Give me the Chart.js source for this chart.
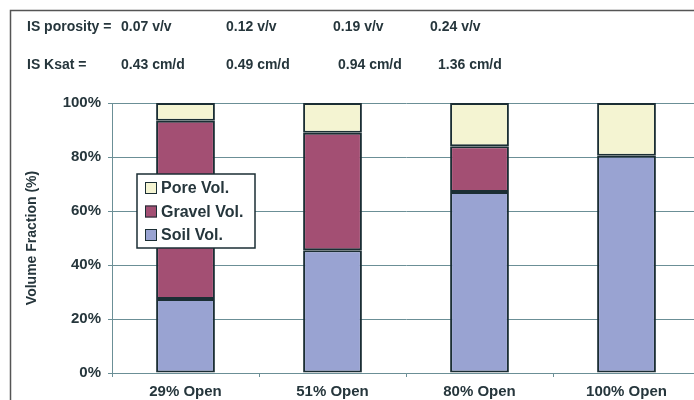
<!DOCTYPE html>
<html>
<head>
<meta charset="utf-8">
<script src="https://cdn.jsdelivr.net/npm/chart.js@4.4.0/dist/chart.umd.min.js"></script>
<style>
  html, body { margin: 0; padding: 0; background: #fff; overflow: hidden; }
  #wrap { width: 706px; height: 410px; }
</style>
</head>
<body>
<div id="wrap"><canvas id="myChart" width="706" height="410"></canvas></div>
<script>
// data
var categories = ['29% Open', '51% Open', '80% Open', '100% Open'];
var soilVol = [27.4, 45.5, 67, 80.5];
var gravelVol = [66, 43.5, 17, 0];
var poreVol = [6.6, 11, 16, 19.5];
var yTicks = [0, 20, 40, 60, 80, 100];
var porosityRow = ['0.07 v/v', '0.12 v/v', '0.19 v/v', '0.24 v/v'];
var ksatRow = ['0.43 cm/d', '0.49 cm/d', '0.94 cm/d', '1.36 cm/d'];

var textColor = '#26363c';
var edgeColor = '#1b2e34';
var gridColor = '#6b8f96';
var fontName = '"Liberation Sans", Arial, sans-serif';

// frame, header rows and the boxed legend
var extras = {
    id: 'extras',
    afterDraw: function(chart) {
        var ctx = chart.ctx;
        ctx.save();
        ctx.strokeStyle = '#555';
        ctx.lineWidth = 1.5;
        ctx.beginPath();
        ctx.moveTo(10.5, chart.height);
        ctx.lineTo(10.5, 10.5);
        ctx.lineTo(chart.width, 10.5);
        ctx.stroke();

        ctx.fillStyle = textColor;
        ctx.font = 'bold 14px ' + fontName;
        ctx.textBaseline = 'middle';
        ctx.textAlign = 'left';
        ctx.fillText('IS porosity =', 27, 27);
        ctx.fillText('IS Ksat =', 27, 65);
        var px = [121, 226, 333, 430];
        var kx = [121, 226, 338, 438];
        porosityRow.forEach(function(t, i) { ctx.fillText(t, px[i], 27); });
        ksatRow.forEach(function(t, i) { ctx.fillText(t, kx[i], 65); });

        // legend
        ctx.fillStyle = '#fff';
        ctx.fillRect(137, 174, 118, 74);
        ctx.strokeStyle = edgeColor;
        ctx.lineWidth = 1.5;
        ctx.strokeRect(137, 174, 118, 74);
        var order = [2, 1, 0];
        ctx.font = 'bold 16px ' + fontName;
        order.forEach(function(di, row) {
            var ds = chart.data.datasets[di];
            var cy = 188 + row * 23.5;
            ctx.fillStyle = ds.backgroundColor;
            ctx.fillRect(145, cy - 6, 12, 12);
            ctx.strokeStyle = edgeColor;
            ctx.lineWidth = 1;
            ctx.strokeRect(145.5, cy - 5.5, 11, 11);
            ctx.fillStyle = textColor;
            ctx.fillText(ds.label, 161, cy + 1);
        });
        ctx.restore();
    }
};

new Chart(document.getElementById('myChart').getContext('2d'), {
    type: 'bar',
    data: {
        labels: categories,
        datasets: [{
            label: 'Soil Vol.',
            data: soilVol,
            backgroundColor: '#99a3d2'
        }, {
            label: 'Gravel Vol.',
            data: gravelVol,
            backgroundColor: '#a34f73'
        }, {
            label: 'Pore Vol.',
            data: poreVol,
            backgroundColor: '#f4f4d2'
        }]
    },
    plugins: [extras],
    options: {
        responsive: false,
        animation: false,
        devicePixelRatio: 1,
        layout: { padding: { left: 0, top: 103, right: 6, bottom: 0 } },
        datasets: {
            bar: {
                borderColor: edgeColor,
                borderWidth: 2,
                borderSkipped: false,
                barPercentage: 0.4,
                categoryPercentage: 1
            }
        },
        plugins: {
            legend: { display: false },
            tooltip: { enabled: false }
        },
        scales: {
            x: {
                stacked: true,
                afterFit: function(scale) { scale.height = 37; },
                grid: {
                    offset: true,
                    drawOnChartArea: false,
                    color: gridColor,
                    tickLength: 4
                },
                border: { display: true, color: gridColor },
                ticks: {
                    color: textColor,
                    padding: 6,
                    maxRotation: 0,
                    font: { family: fontName, size: 15, weight: 'bold' }
                }
            },
            y: {
                stacked: true,
                min: 0,
                max: 100,
                afterFit: function(scale) { scale.width = 112; },
                afterBuildTicks: function(scale) {
                    scale.ticks = yTicks.map(function(v) { return { value: v }; });
                },
                grid: { color: gridColor, tickLength: 4 },
                border: { display: true, color: gridColor },
                ticks: {
                    color: textColor,
                    padding: 7,
                    font: { family: fontName, size: 15, weight: 'bold' },
                    callback: function(v) { return v + '%'; }
                },
                title: {
                    display: true,
                    text: 'Volume Fraction (%)',
                    color: textColor,
                    padding: { top: 24, bottom: 0 },
                    font: { family: fontName, size: 14, weight: 'bold' }
                }
            }
        }
    }
});
</script>
</body>
</html>
